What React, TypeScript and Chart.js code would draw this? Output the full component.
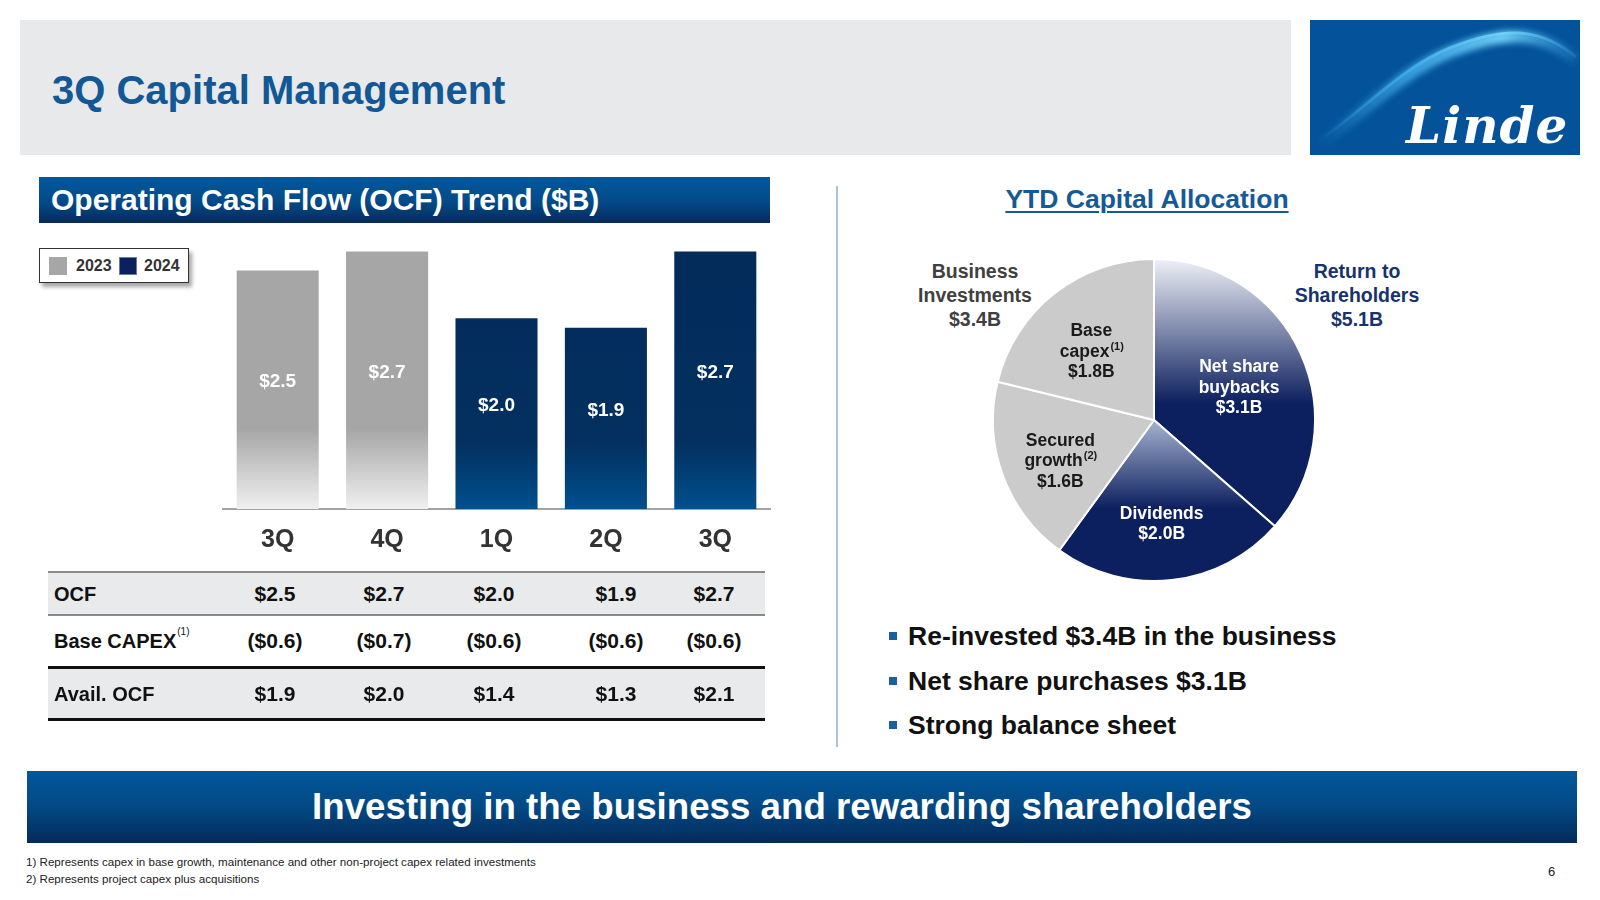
import React, { useEffect, useRef } from 'react';
import { Chart, registerables } from 'chart.js';

Chart.register(...registerables);

const FONT = '"Liberation Sans", Arial, Helvetica, sans-serif';

// ---- data ----
const quarters = ['3Q', '4Q', '1Q', '2Q', '3Q'];
const quarterYears = ['2023', '2023', '2024', '2024', '2024'];
const ocf = [2.5, 2.7, 2.0, 1.9, 2.7];
const baseCapex = [-0.6, -0.7, -0.6, -0.6, -0.6];
const availOcf = [1.9, 2.0, 1.4, 1.3, 2.1];
const legendYears = ['2023', '2024'];
const tableColCenters = [275, 384, 494, 616, 714];

const allocNames = [['Net share', 'buybacks'], ['Dividends'], ['Secured', 'growth'], ['Base', 'capex']];
const allocNotes = ['', '', '(2)', '(1)'];
const allocValues = [3.1, 2.0, 1.6, 1.8];
const allocGroup = ['return', 'return', 'business', 'business'];

const bullets = ['Re-invested $3.4B in the business', 'Net share purchases $3.1B', 'Strong balance sheet'];
const footnotes = [
  '1) Represents capex in base growth, maintenance and other non-project capex related investments',
  '2) Represents project capex plus acquisitions',
];

const money = (v: number) => (v < 0 ? `($${Math.abs(v).toFixed(1)})` : `$${v.toFixed(1)}`);
const yearColor = (y: string) => (y === '2023' ? '#a6a6a6' : '#0c1f5e');

function OcfChart() {
  const ref = useRef<HTMLCanvasElement>(null);
  useEffect(() => {
    const valueLabels = {
      id: 'valueLabels',
      afterDatasetsDraw(chart: any) {
        const { ctx } = chart;
        const meta = chart.getDatasetMeta(0);
        ctx.save();
        ctx.font = `bold 19px ${FONT}`;
        ctx.fillStyle = '#ffffff';
        ctx.textAlign = 'center';
        ctx.textBaseline = 'middle';
        meta.data.forEach((bar: any, i: number) => {
          const { x, y, base } = bar.getProps(['x', 'y', 'base'], true);
          ctx.fillText(money(ocf[i]), x, (y + base) / 2 - 8);
        });
        ctx.restore();
      },
    };
    const chart = new Chart(ref.current as HTMLCanvasElement, {
      type: 'bar',
      data: {
        labels: quarters,
        datasets: [
          {
            data: ocf,
            borderWidth: 0,
            categoryPercentage: 1,
            barPercentage: 0.75,
            backgroundColor: (c: any) => {
              const chart = c.chart;
              const area = chart.chartArea;
              const yr = quarterYears[c.dataIndex];
              if (!area) return yr === '2023' ? '#a6a6a6' : '#032b5b';
              const g = chart.ctx.createLinearGradient(0, area.top, 0, area.bottom);
              if (yr === '2023') {
                g.addColorStop(0, '#a6a6a6');
                g.addColorStop(0.7, '#a6a6a6');
                g.addColorStop(1, '#f0f0f0');
              } else {
                g.addColorStop(0, '#022b59');
                g.addColorStop(0.75, '#03305f');
                g.addColorStop(1, '#00508e');
              }
              return g;
            },
          },
        ],
      },
      options: {
        animation: false,
        responsive: false,
        maintainAspectRatio: false,
        layout: { padding: { left: 18, right: 10, top: 10, bottom: 11 } },
        plugins: { legend: { display: false }, tooltip: { enabled: false } },
        scales: {
          x: {
            grid: { display: false, drawTicks: false },
            border: { display: true, color: '#a3a3a3', width: 2 },
            ticks: { color: '#333333', font: { family: FONT, size: 25, weight: 'bold' }, padding: 16 },
          },
          y: { display: false, min: 0, max: 2.8 },
        },
      },
      plugins: [valueLabels],
    } as any);
    return () => chart.destroy();
  }, []);
  return (
    <canvas
      ref={ref}
      width={575}
      height={350}
      style={{ position: 'absolute', left: 205, top: 232, width: 575, height: 350 }}
    />
  );
}

function AllocChart() {
  const ref = useRef<HTMLCanvasElement>(null);
  useEffect(() => {
    const sliceLabels = {
      id: 'sliceLabels',
      afterDatasetsDraw(chart: any) {
        const { ctx } = chart;
        const meta = chart.getDatasetMeta(0);
        ctx.save();
        ctx.textBaseline = 'middle';
        meta.data.forEach((arc: any, i: number) => {
          const { x, y, startAngle, endAngle, outerRadius } = arc.getProps(
            ['x', 'y', 'startAngle', 'endAngle', 'outerRadius'],
            true
          );
          const mid = (startAngle + endAngle) / 2;
          const px = x + Math.cos(mid) * outerRadius * 0.6 - 3;
          const py = y + Math.sin(mid) * outerRadius * 0.6 + 8;
          const lines = [...allocNames[i], `$${allocValues[i].toFixed(1)}B`];
          const lh = 20.5;
          ctx.fillStyle = allocGroup[i] === 'return' ? '#ffffff' : '#1a1a1a';
          lines.forEach((ln, k) => {
            const ly = py + (k - (lines.length - 1) / 2) * lh;
            const sup = k === allocNames[i].length - 1 ? allocNotes[i] : '';
            ctx.font = `bold 17.5px ${FONT}`;
            const w1 = ctx.measureText(ln).width;
            ctx.font = `bold 11px ${FONT}`;
            const w2 = sup ? ctx.measureText(sup).width : 0;
            const sx = px - (w1 + w2) / 2;
            ctx.textAlign = 'left';
            ctx.font = `bold 17.5px ${FONT}`;
            ctx.fillText(ln, sx, ly);
            if (sup) {
              ctx.font = `bold 11px ${FONT}`;
              ctx.fillText(sup, sx + w1 + 1, ly - 5);
            }
          });
        });
        ctx.restore();
      },
    };
    const chart = new Chart(ref.current as HTMLCanvasElement, {
      type: 'pie',
      data: {
        labels: allocNames.map((n) => n.join(' ')),
        datasets: [
          {
            data: allocValues,
            borderColor: '#ffffff',
            borderWidth: 2,
            backgroundColor: (c: any) => {
              const chart = c.chart;
              const area = chart.chartArea;
              const i = c.dataIndex;
              if (allocGroup[i] !== 'return') return '#cbcbcb';
              if (!area) return '#0c1f5e';
              const cy = (area.top + area.bottom) / 2;
              const r = Math.min(area.right - area.left, area.bottom - area.top) / 2;
              let g;
              if (i === 0) {
                g = chart.ctx.createLinearGradient(0, cy - r, 0, cy - 0.1 * r);
                g.addColorStop(0, '#f0f2f7');
                g.addColorStop(1, '#0c1f5e');
              } else {
                g = chart.ctx.createLinearGradient(0, cy, 0, cy + 0.55 * r);
                g.addColorStop(0, '#a6b3d0');
                g.addColorStop(1, '#0c1f5e');
              }
              return g;
            },
          },
        ],
      },
      options: {
        animation: false,
        responsive: false,
        maintainAspectRatio: false,
        layout: { padding: 8 },
        plugins: { legend: { display: false }, tooltip: { enabled: false } },
      },
      plugins: [sliceLabels],
    } as any);
    return () => chart.destroy();
  }, []);
  return (
    <canvas
      ref={ref}
      width={340}
      height={340}
      style={{ position: 'absolute', left: 984, top: 250, width: 340, height: 340 }}
    />
  );
}

function Logo() {
  return (
    <div style={{ position: 'absolute', left: 1310, top: 20, width: 270, height: 135, background: '#03529a', overflow: 'hidden' }}>
      <svg width={270} height={135} style={{ position: 'absolute', left: 0, top: 0 }}>
        <defs>
          <linearGradient id="sw" x1="0" y1="0" x2="1" y2="0">
            <stop offset="0" stopColor="#3aa8e6" stopOpacity="0" />
            <stop offset="0.35" stopColor="#41b0ec" stopOpacity="0.8" />
            <stop offset="0.72" stopColor="#6fd0f7" stopOpacity="1" />
            <stop offset="1" stopColor="#4ab4ee" stopOpacity="0.15" />
          </linearGradient>
          <filter id="bl" x="-20%" y="-50%" width="140%" height="200%">
            <feGaussianBlur stdDeviation="3" />
          </filter>
        </defs>
        <path d="M 8 124 C 50 98, 90 52, 140 32 S 228 8, 266 40" stroke="url(#sw)" strokeWidth={12} fill="none" filter="url(#bl)" />
        <path d="M 8 121 C 50 94, 90 48, 140 28 S 228 5, 266 37" stroke="url(#sw)" strokeWidth={3} fill="none" />
      </svg>
      <div
        style={{
          position: 'absolute',
          left: 96,
          top: 76,
          fontFamily: '"DejaVu Serif", "Liberation Serif", serif',
          fontStyle: 'italic',
          fontWeight: 'bold',
          fontSize: 50,
          color: '#ffffff',
          lineHeight: '60px',
          letterSpacing: 1,
        }}
      >
        Linde
      </div>
    </div>
  );
}

export default function App() {
  const txt = (extra: React.CSSProperties): React.CSSProperties => ({
    position: 'absolute',
    fontFamily: FONT,
    fontWeight: 'bold',
    whiteSpace: 'nowrap',
    ...extra,
  });
  const sum = (g: string) => allocValues.reduce((s, v, i) => (allocGroup[i] === g ? s + v : s), 0);
  const rows = [
    { label: 'OCF', note: '', values: ocf, bg: '#e9eaec', top: 573, h: 41 },
    { label: 'Base CAPEX', note: '(1)', values: baseCapex, bg: '#ffffff', top: 616, h: 50 },
    { label: 'Avail. OCF', note: '', values: availOcf, bg: '#e9eaec', top: 669, h: 49 },
  ];
  const rules = [
    { top: 571, h: 2, c: '#8a8a8a' },
    { top: 614, h: 2, c: '#8a8a8a' },
    { top: 666, h: 3, c: '#111111' },
    { top: 718, h: 3, c: '#111111' },
  ];
  return (
    <div style={{ position: 'fixed', left: 0, top: 0, width: 1600, height: 900, background: '#ffffff', overflow: 'hidden', fontFamily: FONT }}>
      {/* header */}
      <div style={{ position: 'absolute', left: 20, top: 20, width: 1271, height: 135, background: '#e8e9eb' }} />
      <div style={txt({ left: 52, top: 66, fontSize: 40, lineHeight: '48px', color: '#135896' })}>3Q Capital Management</div>
      <Logo />

      {/* OCF heading */}
      <div
        style={{
          position: 'absolute',
          left: 39,
          top: 177,
          width: 731,
          height: 46,
          background: 'linear-gradient(to bottom, #02589d 0%, #034a88 55%, #062a5b 100%)',
        }}
      />
      <div style={txt({ left: 51, top: 181, fontSize: 30, lineHeight: '38px', color: '#ffffff' })}>
        Operating Cash Flow (OCF) Trend ($B)
      </div>

      {/* legend */}
      <div
        style={{
          position: 'absolute',
          left: 39,
          top: 248,
          width: 148,
          height: 33,
          border: '1px solid #333',
          background: '#fff',
          boxShadow: '3px 4px 4px rgba(0,0,0,0.35)',
        }}
      />
      {legendYears.map((y, i) => (
        <React.Fragment key={y}>
          <div
            style={{
              position: 'absolute',
              left: 49 + i * 70,
              top: 257,
              width: 18,
              height: 18,
              background: yearColor(y),
              boxSizing: 'border-box',
              border: i === 1 ? '1px solid #6a7aa0' : 'none',
            }}
          />
          <div style={txt({ left: 76 + i * 68, top: 256, fontSize: 16, lineHeight: '20px', color: '#333' })}>{y}</div>
        </React.Fragment>
      ))}

      <OcfChart />

      {/* table */}
      {rows.map((r) => (
        <React.Fragment key={r.label}>
          <div style={{ position: 'absolute', left: 48, top: r.top, width: 717, height: r.h, background: r.bg }} />
          <div style={txt({ left: 54, top: r.top + r.h / 2 - 12, fontSize: 20, lineHeight: '24px', color: '#111' })}>
            {r.label}
            {r.note ? (
              <span style={{ fontSize: 10, fontWeight: 'normal', position: 'relative', top: -13, left: 1 }}>{r.note}</span>
            ) : null}
          </div>
          {r.values.map((v, i) => (
            <div
              key={i}
              style={txt({
                left: tableColCenters[i],
                top: r.top + r.h / 2 - 12,
                fontSize: 21,
                lineHeight: '24px',
                color: '#111',
                transform: 'translateX(-50%)',
              })}
            >
              {money(v)}
            </div>
          ))}
        </React.Fragment>
      ))}
      {rules.map((r, i) => (
        <div key={i} style={{ position: 'absolute', left: 48, top: r.top, width: 717, height: r.h, background: r.c }} />
      ))}

      {/* divider */}
      <div style={{ position: 'absolute', left: 836, top: 186, width: 2, height: 561, background: '#a9c3dd' }} />

      {/* right side */}
      <div
        style={txt({
          left: 1147,
          top: 183,
          fontSize: 26.5,
          lineHeight: '32px',
          color: '#155a98',
          textDecoration: 'underline',
          textDecorationThickness: 2,
          textUnderlineOffset: 3,
          transform: 'translateX(-50%)',
        })}
      >
        YTD Capital Allocation
      </div>
      <div style={txt({ left: 975, top: 259, fontSize: 19.5, lineHeight: '24px', color: '#404040', textAlign: 'center', transform: 'translateX(-50%)' })}>
        Business
        <br />
        Investments
        <br />${sum('business').toFixed(1)}B
      </div>
      <div style={txt({ left: 1357, top: 259, fontSize: 19.5, lineHeight: '24px', color: '#17336e', textAlign: 'center', transform: 'translateX(-50%)' })}>
        Return to
        <br />
        Shareholders
        <br />${sum('return').toFixed(1)}B
      </div>
      <AllocChart />

      {bullets.map((b, i) => (
        <React.Fragment key={b}>
          <div style={{ position: 'absolute', left: 889, top: 632 + i * 44.5, width: 8, height: 8, background: '#1a5f9e' }} />
          <div style={txt({ left: 908, top: 620 + i * 44.5, fontSize: 26.5, lineHeight: '32px', color: '#111' })}>{b}</div>
        </React.Fragment>
      ))}

      {/* bottom banner */}
      <div
        style={{
          position: 'absolute',
          left: 27,
          top: 771,
          width: 1550,
          height: 72,
          background: 'linear-gradient(to bottom, #02579c 0%, #034984 50%, #042a5a 100%)',
        }}
      />
      <div style={txt({ left: 782, top: 785, fontSize: 36.7, lineHeight: '44px', color: '#ffffff', transform: 'translateX(-50%)' })}>
        Investing in the business and rewarding shareholders
      </div>

      {footnotes.map((f, i) => (
        <div key={f} style={{ position: 'absolute', left: 26, top: 855 + i * 17, fontFamily: FONT, fontSize: 11.6, lineHeight: '14px', color: '#222', whiteSpace: 'nowrap' }}>
          {f}
        </div>
      ))}
      <div style={{ position: 'absolute', left: 1548, top: 864, fontFamily: FONT, fontSize: 13, lineHeight: '16px', color: '#222' }}>6</div>
    </div>
  );
}
